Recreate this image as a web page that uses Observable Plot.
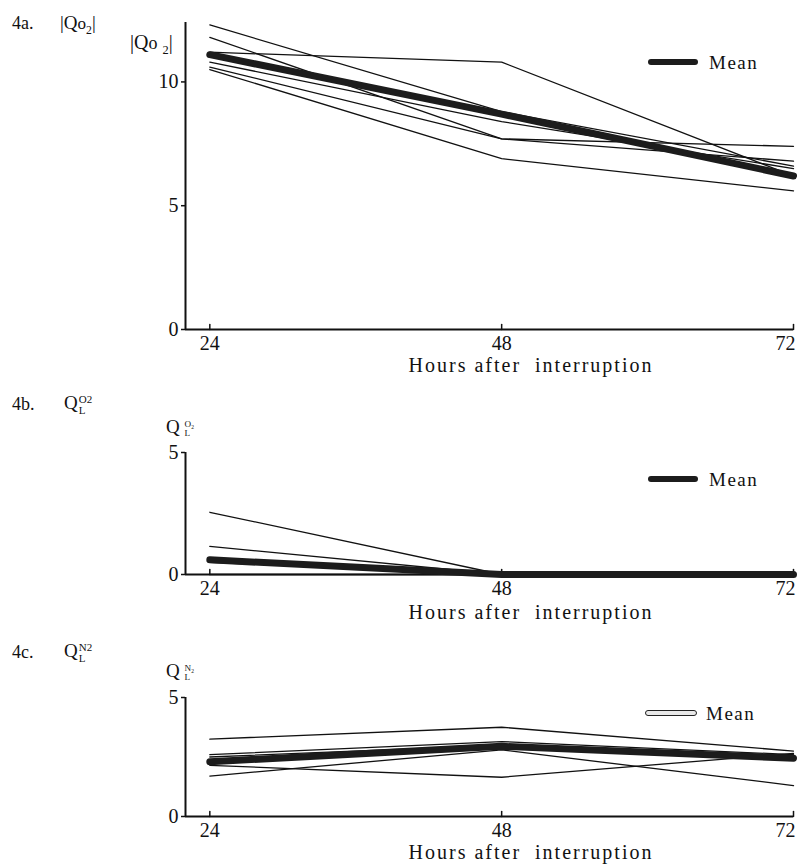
<!DOCTYPE html>
<html><head><meta charset="utf-8">
<script src="https://cdn.jsdelivr.net/npm/d3@7"></script>
<script src="https://cdn.jsdelivr.net/npm/@observablehq/plot@0.6"></script>
<style>
body{margin:0;background:#fff;}
#page{position:relative;width:799px;height:865px;overflow:hidden;font-family:"Liberation Serif","Times New Roman",serif;color:#111;background:#fff;}
.t{position:absolute;white-space:nowrap;line-height:1;}
.panel{position:absolute;left:0;}
sub,sup{font-size:62%;line-height:0;}
.stack{display:inline-block;vertical-align:middle;line-height:1;}
.bar{position:absolute;height:6px;border-radius:3px;background:#1c1c1c;}
</style></head><body><div id="page"></div>
<script>
// ---- data ----
const hours = [24, 48, 72];
const xTicks = [24, 48, 72];
const xOrigin = 22;          // hours value where the y axis stands
const xEnd = 72;

// 4a |QO2|
const qo2Lines = [
  [12.3, 8.8, 6.6],
  [11.8, 7.7, 7.4],
  [11.2, 10.8, 6.2],
  [10.8, 8.4, 6.5],
  [10.6, 7.7, 6.8],
  [10.5, 6.9, 5.6]
];
const qo2Mean = [11.1, 8.7, 6.2];
const qo2Ticks = [0, 5, 10];
const qo2Max = 12.4;

// 4b Q_L^O2
const qlo2Lines = [
  [2.55, 0, 0],
  [1.15, 0, 0],
  [0.65, 0, 0],
  [0.5, 0, 0],
  [0, 0, 0]
];
const qlo2Mean = [0.6, 0, 0];
const qlo2Ticks = [0, 5];
const qlo2Max = 5;

// 4c Q_L^N2
const qln2Lines = [
  [3.25, 3.75, 2.75],
  [2.6, 3.15, 2.6],
  [2.5, 3.0, 2.5],
  [2.15, 1.65, 2.65],
  [1.7, 2.8, 1.3]
];
const qln2Mean = [2.3, 2.95, 2.45];
const qln2Ticks = [0, 5];
const qln2Max = 5;

// ---- drawing ----
const ink = "#111";
const page = document.getElementById("page");
const tickShape = {draw(ctx, l) { ctx.moveTo(0, 0); ctx.lineTo(0, -l); }};

function toRows(lines) {
  const rows = [];
  lines.forEach((vals, s) => vals.forEach((v, j) => rows.push({s, h: hours[j], v})));
  return rows;
}

function panel({lines, mean, yMax, yTicks, top, height, marginTop, marginBottom}) {
  const rows = toRows(lines);
  const meanRows = mean.map((v, j) => ({h: hours[j], v}));
  const svg = Plot.plot({
    width: 799, height, marginLeft: 185, marginRight: 6, marginTop, marginBottom,
    x: {domain: [xOrigin, xEnd]},
    y: {domain: [0, yMax]},
    style: {fontFamily: "'Liberation Serif', serif", fontSize: "20px", color: ink, background: "transparent", overflow: "visible"},
    marks: [
      Plot.ruleY([0], {x1: xOrigin, x2: xEnd, stroke: ink, strokeWidth: 2}),
      Plot.ruleX([xOrigin], {y1: 0, y2: yMax, stroke: ink, strokeWidth: 2}),
      Plot.vector(xTicks, {x: d => d, y: 0, length: 5, anchor: "start", shape: tickShape, stroke: ink, strokeWidth: 1.5}),
      Plot.axisX(xTicks.filter(d => d < xEnd), {tickSize: 0, tickPadding: 6, label: null}),
      Plot.axisX(xTicks.filter(d => d === xEnd), {tickSize: 0, tickPadding: 6, label: null, textAnchor: "end", dx: 2}),
      Plot.axisY(yTicks, {tickSize: 4, tickPadding: 3, label: null, strokeWidth: 1.5}),
      Plot.line(rows, {x: "h", y: "v", z: "s", stroke: ink, strokeWidth: 1.3}),
      Plot.line(meanRows, {x: "h", y: "v", stroke: "#1c1c1c", strokeWidth: 7, strokeLinecap: "round"})
    ]
  });
  svg.classList.add("panel");
  svg.style.top = top + "px";
  page.appendChild(svg);
}

function text(html, x, y, size, anchor = "left", extra = "") {
  const d = document.createElement("div");
  d.className = "t";
  d.innerHTML = html;
  d.style.left = x + "px";
  d.style.top = y + "px";
  d.style.fontSize = size + "px";
  const tx = anchor === "center" ? "-50%" : anchor === "right" ? "-100%" : "0";
  d.style.transform = `translate(${tx}, -50%)`;
  if (extra) d.style.cssText += extra;
  page.appendChild(d);
}

function legend(x, y, hollow) {
  const b = document.createElement("div");
  b.className = "bar";
  b.style.left = x + "px";
  b.style.top = (y - 3) + "px";
  b.style.width = "50px";
  if (hollow) { b.style.background = "#e8e8e8"; b.style.border = "1.5px solid #222"; b.style.height = "4px"; }
  page.appendChild(b);
  text("Mean", x + 61, y, 19, "left", "letter-spacing:1.5px;");
}

panel({lines: qo2Lines, mean: qo2Mean, yMax: qo2Max, yTicks: qo2Ticks, top: 0, height: 380, marginTop: 22, marginBottom: 51});
panel({lines: qlo2Lines, mean: qlo2Mean, yMax: qlo2Max, yTicks: qlo2Ticks, top: 380, height: 240, marginTop: 72, marginBottom: 46});
panel({lines: qln2Lines, mean: qln2Mean, yMax: qln2Max, yTicks: qln2Ticks, top: 620, height: 245, marginTop: 77, marginBottom: 49});

const xlab = "Hours after&nbsp; interruption";
const xlabStyle = "letter-spacing:2px;";
text(xlab, 531, 365, 20, "center", xlabStyle);
text(xlab, 531, 612, 20, "center", xlabStyle);
text(xlab, 531, 852, 20, "center", xlabStyle);

// panel titles
text("4a.", 12, 23, 18);
text("|Q<span style='font-size:90%'>o</span><sub>2</sub>|", 60, 23, 19);
text("4b.", 12, 404, 18);
text("Q<span class='stack' style='font-size:58%;margin-left:1px'>O2<br>L</span>", 64, 404, 19);
text("4c.", 12, 652, 18);
text("Q<span class='stack' style='font-size:58%;margin-left:1px'>N2<br>L</span>", 64, 652, 19);

// axis titles
text("|Q<span style='font-size:90%'>o</span> <sub>2</sub>|", 130, 42, 20);
text("Q <span class='stack' style='font-size:48%'>O₂<br>L</span>", 166, 427, 19);
text("Q <span class='stack' style='font-size:48%'>N₂<br>L</span>", 166, 671, 19);

legend(648, 62, false);
legend(648, 479, false);
legend(645, 713, true);
</script>
</body></html>
